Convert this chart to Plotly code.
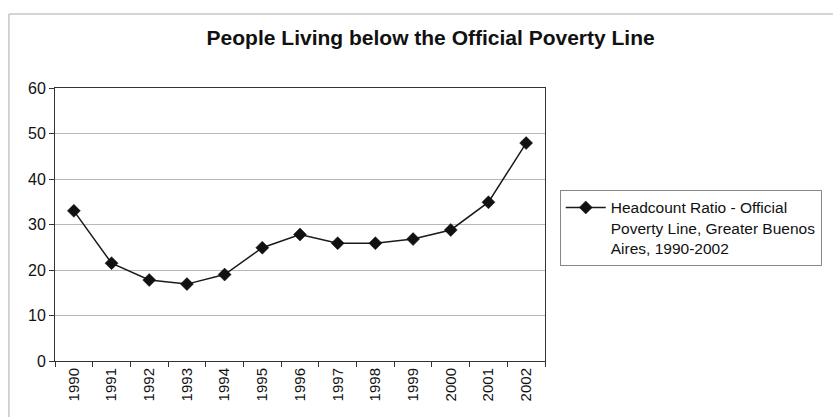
import plotly.graph_objects as go

years = ["1990", "1991", "1992", "1993", "1994", "1995", "1996",
         "1997", "1998", "1999", "2000", "2001", "2002"]
headcount = [33.0, 21.5, 17.8, 16.9, 19.0, 24.9, 27.8,
             25.9, 25.9, 26.8, 28.8, 34.9, 47.9]
series_name = "Headcount Ratio - Official<br>Poverty Line, Greater Buenos<br>Aires, 1990-2002"
y_ticks = [0, 10, 20, 30, 40, 50, 60]

FONT = "Arial, Liberation Sans, sans-serif"

fig = go.Figure()
fig.add_trace(go.Scatter(
    x=years, y=headcount, mode="lines+markers", name=series_name,
    line=dict(color="#1a1a1a", width=1.5),
    marker=dict(symbol="diamond", size=10, color="#111111",
                line=dict(color="#111111", width=0.5)),
))

fig.update_layout(
    width=833, height=417,
    margin=dict(l=55, r=287, t=88, b=56),
    paper_bgcolor="white", plot_bgcolor="white",
    font=dict(family=FONT, color="#111111", size=14),
    title=dict(text="<b>People Living below the Official Poverty Line</b>",
               x=0.517, xanchor="center", xref="container", y=0.91, yanchor="middle",
               font=dict(size=21, family=FONT, color="#111111")),
    showlegend=True,
    legend=dict(x=1.028, y=0.627, xanchor="left", yanchor="top", valign="top",
                bgcolor="white", bordercolor="#888888", borderwidth=1,
                font=dict(size=15.5, family=FONT, color="#111111"),
                itemwidth=40, tracegroupgap=0),
)

fig.update_xaxes(
    type="category", range=[-0.5, 12.5],
    tickangle=-90, tickfont=dict(size=15),
    showgrid=False, showline=True, linecolor="#333333", linewidth=1, mirror=True,
    ticks="outside", ticklen=5, tickcolor="#333333", tickson="boundaries",
)
fig.update_yaxes(
    range=[0, 60], tickvals=y_ticks, tickfont=dict(size=16),
    showgrid=True, gridcolor="#b8b8b8", gridwidth=1,
    showline=True, linecolor="#333333", linewidth=1, mirror=True,
    ticks="outside", ticklen=5, tickcolor="#333333", zeroline=False,
)

# Outer chart-area frame
fig.add_shape(type="rect", xref="paper", yref="paper",
              x0=-0.094, x1=1.7, y0=-0.5, y1=1.271,
              line=dict(color="#aaaaaa", width=1), layer="below")

fig.write_html("out.html")
